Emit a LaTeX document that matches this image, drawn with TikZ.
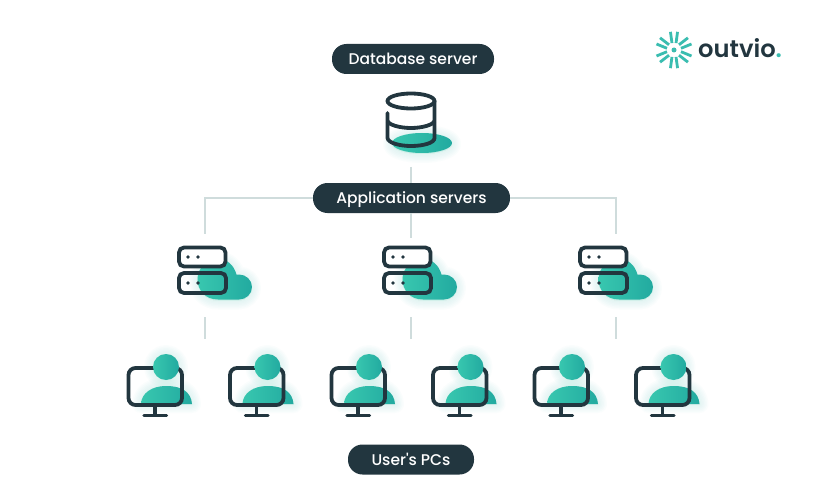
\documentclass[tikz,border=0pt]{standalone}
\usepackage{fontspec}
\setmainfont{Lato}
\newfontfamily\logofont{Poppins SemiBold}
\newfontfamily\pillfont{Poppins Medium}
\definecolor{ink}{HTML}{22363F}
\definecolor{wire}{HTML}{CFDCDC}
\definecolor{tealA}{HTML}{38C7AF}
\definecolor{tealB}{HTML}{22AAA0}
\definecolor{glow}{HTML}{5FD3C3}
\definecolor{brand}{HTML}{3ABDB0}
\tikzset{
  pill/.style={fill=ink,text=white,rounded corners=14.5pt,minimum height=30pt,inner sep=0pt,
    text height=13pt,text depth=2pt,
    font=\pillfont\fontsize{15.5}{18}\selectfont},
  wireline/.style={draw=wire,line width=2pt},
  outline/.style={draw=ink,line width=3.8pt},
  tealfill/.style={left color=tealA,right color=tealB,draw=none},
  softglow/.style={draw=glow,fill=glow,draw opacity=.028,fill opacity=.028,line join=round},
  ray/.style={draw=brand,line width=2.8pt}
}
% Cloud outline, shared by the glow and the filled shape
\newcommand{\cloudshape}{
  (239,299.5) .. controls (246,299.5) and (252,294) .. (252,287)
  .. controls (252,280) and (246,274.5) .. (239,274.5)
  .. controls (238,274.5) and (237.5,274.6) .. (236.5,274.7)
  .. controls (234,265) and (227,259) .. (218,259)
  .. controls (207,259) and (197.5,268) .. (197.5,279)
  .. controls (197.5,290) and (205,299.5) .. (218,299.5) -- cycle
}
% Person silhouette: shoulders of the user in front of a monitor
\newcommand{\shouldershape}{
  (141,404) .. controls (141.5,393) and (152,386) .. (166,386)
  .. controls (182,386) and (191,392) .. (192,404) -- cycle
}
\tikzset{
  pics/serverunit/.style={code={
    \foreach \w in {3,6,...,18}{\path[softglow,line width=\w pt,shift={(0,1)}] \cloudshape;}
    \path[tealfill] \cloudshape;
    \draw[outline,fill=white,rounded corners=5pt] (179,247.5) rectangle (225.5,266.5);
    \draw[outline,rounded corners=5pt] (179,273) rectangle (226,293);
    \fill[ink] (188,257) circle[radius=1.9] (198,257) circle[radius=1.9]
               (188,283) circle[radius=1.9] (198,283) circle[radius=1.9];
  }},
  pics/userpc/.style={code={
    \foreach \w in {3,6,...,18}{
      \path[softglow,line width=\w pt] \shouldershape;
      \path[softglow,line width=\w pt] (166,367) circle[radius=13];
    }
    \path[tealfill] \shouldershape;
    \draw[outline,rounded corners=7pt] (128.5,368) rectangle (182,405);
    \draw[draw=ink,line width=3.4pt,line cap=round] (144,415.5) -- (166.5,415.5);
    \draw[draw=ink,line width=3.4pt] (155,406) -- (155,415);
    \path[tealfill] (166,367) circle[radius=13];
  }}
}
\begin{document}
\begin{tikzpicture}[x=1pt,y=-1pt]
\useasboundingbox (0,0) rectangle (830,500);
\fill[white] (0,0) rectangle (830,500);

% Label pills
\node[pill,minimum width=162pt] (db) at (413,59) {Database server};
\node[pill,minimum width=197pt] (app) at (411.5,198) {Application servers};
\node[pill,minimum width=126pt] (pcs) at (411,459.5) {User's PCs};

% Connector end points
\coordinate (dbfoot) at (411,167);
\coordinate (s1top) at (205,234);
\coordinate (s2top) at (411,238);
\coordinate (s3top) at (616,234);
\foreach \x/\n in {205/1,411/2,616/3}{
  \coordinate (u\n top) at (\x,317);
  \coordinate (u\n foot) at (\x,339);
}

% Connectors
\draw[wireline] (dbfoot) -- (dbfoot |- app.north);
\draw[wireline] (app.west) -| (s1top);
\draw[wireline] (app.east) -| (s3top);
\draw[wireline] (s2top |- app.south) -- (s2top);
\foreach \n in {1,2,3}{\draw[wireline] (u\n top) -- (u\n foot);}

% Database cylinder
\foreach \w in {3,6,...,18}{\path[softglow,line width=\w pt] (422,144) ellipse[x radius=30,y radius=10];}
\path[tealfill] (422,143) ellipse[x radius=30,y radius=10];
\draw[outline] (411,101) ellipse[x radius=23.5,y radius=7.5];
\draw[outline,line cap=round] (387.5,113) -- (387.5,138)
  .. controls (388,143) and (400,146) .. (411,146)
  .. controls (423,146) and (434.5,143) .. (434.5,138) -- (434.5,101);
\draw[outline] (387.5,121) .. controls (389,125) and (400,128) .. (411,128)
  .. controls (422,128) and (433,125) .. (434.5,121);

% Application servers with their clouds
\pic at (0,0) {serverunit};
\pic at (205,0) {serverunit};
\pic at (401,0) {serverunit};

% Client machines
\foreach \dx in {0,101.5,203,304.5,406,507.5}{\pic at (\dx,0) {userpc};}

% Brand mark
\foreach \a in {0,60,...,300}{
  \begin{scope}[shift={(674,50)},rotate=\a]
    \draw[ray] (7,-1.7) -- (17.5,-6);
    \draw[ray] (7,1.7) -- (17.5,6);
  \end{scope}
}
\fill[brand] (674,50) circle[radius=2.5];
\node[inner sep=0pt,anchor=west] (logo) at (698,48) {\logofont\fontsize{24.2}{26}\selectfont\color{ink}outvio\textcolor{brand}{.}};
\end{tikzpicture}
\end{document}
